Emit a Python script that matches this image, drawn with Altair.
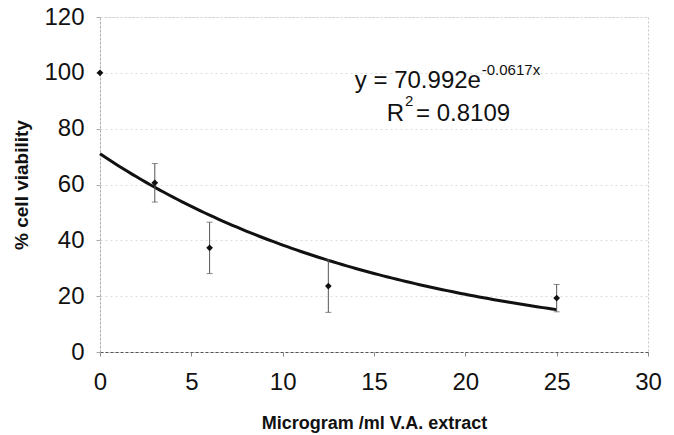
import altair as alt
import pandas as pd

# ---- data ----
conc = [0, 3, 6, 12.5, 25]
viability = [100, 60.6, 37.3, 23.6, 19.3]
err = [0, 6.9, 9.2, 9.4, 4.9]

# exponential trendline stated on the chart
fit_a = 70.992
fit_b = -0.0617
fit_start, fit_end, fit_step = 0, 25.01, 0.25

x_ticks = [0, 5, 10, 15, 20, 25, 30]
y_ticks = [0, 20, 40, 60, 80, 100, 120]

# equation annotation pieces (text, position in data units, font size)
eq_text = ["y = 70.992e", "-0.0617x", "R", "2", "= 0.8109"]
eq_x = [13.95, 20.9, 15.7, 16.7, 17.3]
eq_y = [94.6, 99.4, 82.7, 88.0, 82.7]
eq_size = [24, 15, 24, 15, 24]

FONT = "Liberation Sans"

df = pd.DataFrame({"conc": conc, "via": viability, "err": err})
df["lo"] = df["via"] - df["err"]
df["hi"] = df["via"] + df["err"]
eq_df = pd.DataFrame({"t": eq_text, "x": eq_x, "y": eq_y, "s": eq_size})

xs = alt.Scale(domain=[0, 30], nice=False)
ys = alt.Scale(domain=[0, 120], nice=False)

x_axis = alt.Axis(values=x_ticks, title="Microgram /ml V.A. extract", grid=False,
                  labelFontSize=24, labelPadding=14, tickSize=4, labelFlush=False,
                  titleFontSize=18, titleFontWeight="bold", titlePadding=20,
                  domainColor="#555555", domainDash=[3, 2], tickColor="#888888")
y_axis = alt.Axis(values=y_ticks, title="% cell viability", grid=True,
                  labelFontSize=24, labelPadding=12, tickSize=4, labelFlush=False,
                  titleFontSize=19, titleFontWeight="bold", titlePadding=12,
                  domainColor="#aaaaaa", domainDash=[2, 2], tickColor="#aaaaaa",
                  gridColor="#dcdcdc", gridDash=[2, 3])


def X(field):
    return alt.X(field, scale=xs, axis=x_axis, title="Microgram /ml V.A. extract")


def Y(field):
    return alt.Y(field, scale=ys, axis=y_axis, title="% cell viability")


base = alt.Chart(df)

curve = alt.Chart(alt.sequence(fit_start, fit_end, fit_step, as_="xv")).transform_calculate(
    yv=f"{fit_a} * exp({fit_b} * datum.xv)"
).mark_line(color="#111111", strokeWidth=3).encode(
    x=X("xv:Q"), y=Y("yv:Q"),
)

bars = base.transform_filter("datum.err > 0")
rules = bars.mark_rule(color="#555555", strokeWidth=1).encode(
    x=X("conc:Q"), y=Y("lo:Q"), y2="hi:Q"
)
cap_lo = bars.mark_tick(orient="horizontal", color="#555555", size=6, thickness=1).encode(
    x=X("conc:Q"), y=Y("lo:Q")
)
cap_hi = bars.mark_tick(orient="horizontal", color="#555555", size=6, thickness=1).encode(
    x=X("conc:Q"), y=Y("hi:Q")
)
points = base.mark_point(shape="diamond", filled=True, size=45, color="#111111", opacity=1).encode(
    x=X("conc:Q"), y=Y("via:Q")
)

eq = alt.Chart(eq_df).mark_text(align="left", baseline="alphabetic", font=FONT, color="#111111").encode(
    x=X("x:Q"), y=Y("y:Q"),
    text="t:N",
    size=alt.Size("s:Q", scale=None, legend=None),
)

chart = alt.layer(curve, rules, cap_lo, cap_hi, points, eq).properties(
    width=548, height=335,
    autosize=alt.AutoSizeParams(type="none"),
    padding={"left": 100, "top": 17, "right": 26, "bottom": 83},
    background="white",
).configure_axis(
    labelFont=FONT, titleFont=FONT, labelColor="#111111", titleColor="#111111",
).configure_axisX(
    grid=False,
).configure_view(
    stroke="#c8c8c8", strokeDash=[2, 2], strokeWidth=1,
)

chart.save("out.html", embed_options={"renderer": "svg", "actions": False})
